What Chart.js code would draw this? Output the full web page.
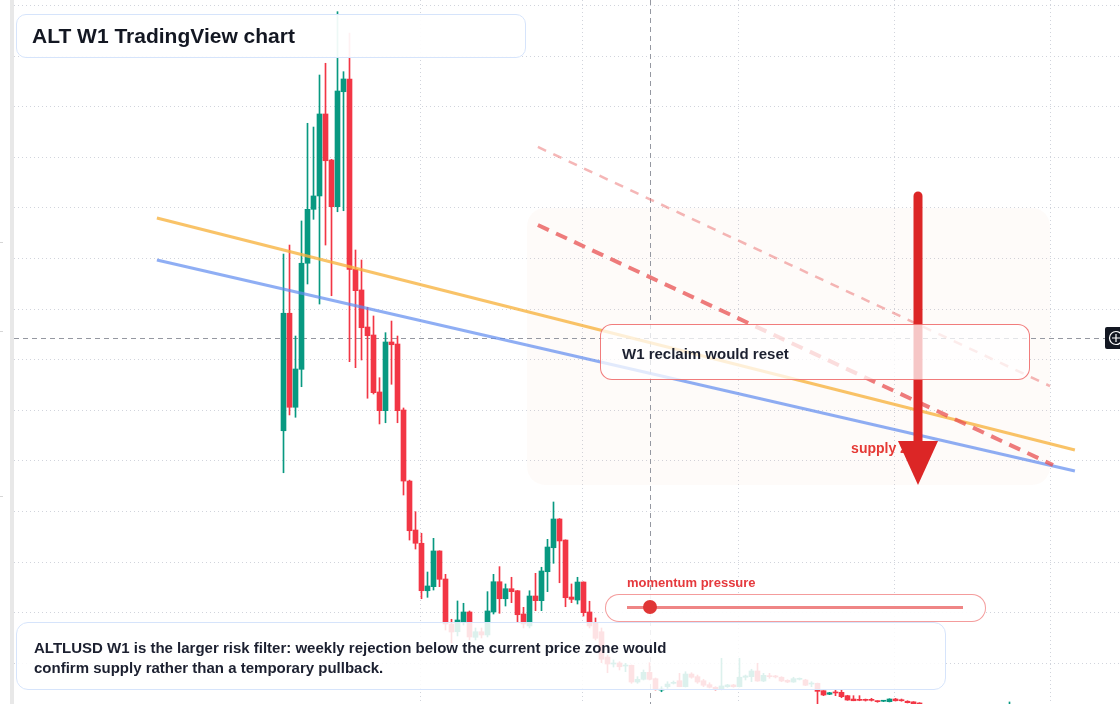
<!DOCTYPE html>
<html>
<head>
<meta charset="utf-8">
<script src="https://cdn.jsdelivr.net/npm/chart.js@4.4.1/dist/chart.umd.min.js"></script>
<style>
  html, body { margin: 0; padding: 0; background: #fff; }
  body { width: 1120px; height: 704px; position: relative; overflow: hidden;
         font-family: "Liberation Sans", Arial, sans-serif; }
  #wrap { position: absolute; left: 0; top: 0; width: 1120px; height: 704px; }
  .strip { position: absolute; left: 10px; top: 0; width: 4px; height: 704px; background: #e8e8e8; }
  .ltick { position: absolute; left: 0; width: 3px; height: 1px; background: #d6d6d6; }
  .box { position: absolute; box-sizing: border-box; }
  #title { left: 16px; top: 14px; width: 510px; height: 44px; border: 1.5px solid #d6e4fb;
           border-radius: 10px; background: rgba(255,255,255,0.93); color: #131722;
           font-weight: bold; font-size: 21px; line-height: 41px; padding-left: 15px; }
  #note { left: 16px; top: 622px; width: 930px; height: 68px; border: 1.5px solid #d6e4fb;
          border-radius: 12px; background: rgba(255,255,255,0.86); color: #1c2030;
          font-weight: bold; font-size: 15px; line-height: 20px; padding: 15px 0 0 17px; }
  #reclaim { left: 600px; top: 324px; width: 430px; height: 56px; border: 1px solid rgba(236,80,80,0.75);
             border-radius: 12px; background: rgba(255,255,255,0.74); color: #1c2030;
             font-weight: bold; font-size: 15px; line-height: 58px; padding-left: 21px; }
  #momLabel { left: 627px; top: 575px; color: #e5393d; font-weight: bold; font-size: 13px; }
  #momPill { left: 605px; top: 594px; width: 381px; height: 28px; border: 1.5px solid rgba(236,90,90,0.6);
             border-radius: 14px; background: rgba(255,255,255,0.9); }
  #momTrack { left: 21px; top: 11px; width: 336px; height: 3px; background: #ef8585; }
  #momKnob { left: 37px; top: 5px; width: 14px; height: 14px; border-radius: 50%; background: #e03636; }
</style>
</head>
<body>
<div id="wrap"><canvas id="chart" width="1120" height="704"></canvas></div>
<div class="strip"></div>
<div class="ltick" style="top:242px"></div>
<div class="ltick" style="top:331px"></div>
<div class="ltick" style="top:496px"></div>

<div class="box" id="title">ALT W1 TradingView chart</div>
<div class="box" id="reclaim">W1 reclaim would reset</div>
<div class="box" id="momLabel">momentum pressure</div>
<div class="box" id="momPill"><div class="box" id="momTrack"></div><div class="box" id="momKnob"></div></div>
<div class="box" id="note">ALTLUSD W1 is the larger risk filter: weekly rejection below the current price zone would<br>confirm supply rather than a temporary pullback.</div>

<script>
'use strict';

// ── Weekly candles (ALTUSD, price in USD), index = week number ──
// weeks 107-120 trade below the visible window, so they are left empty (null)
const opens = [
  0.2798, 0.3959, 0.3030, 0.3405, 0.4453, 0.4986, 0.5118, 0.5928, 0.5473, 0.5012,
  0.6148, 0.6274, 0.4393, 0.4189, 0.3823, 0.3744, 0.3181, 0.2996, 0.3675, 0.3655,
  0.3003, 0.2301, 0.1817, 0.1686, 0.1217, 0.1257, 0.1610, 0.1333, 0.0888, 0.0812,
  0.0911, 0.1007, 0.0757, 0.0812, 0.0780, 0.1007, 0.1306, 0.1138, 0.1237, 0.1217,
  0.0987, 0.0869, 0.1165, 0.1119, 0.1405, 0.1642, 0.1926, 0.1718, 0.1155, 0.1125,
  0.1303, 0.1007, 0.0898, 0.0812, 0.0562, 0.0493, 0.0503, 0.0473, 0.0480, 0.0315,
  0.0342, 0.0411, 0.0348, 0.0236, 0.0269, 0.0302, 0.0328, 0.0269, 0.0394, 0.0368,
  0.0328, 0.0289, 0.0263, 0.0243, 0.0269, 0.0286, 0.0269, 0.0362, 0.0368, 0.0424,
  0.0325, 0.0375, 0.0375, 0.0362, 0.0332, 0.0315, 0.0342, 0.0335, 0.0295, 0.0302,
  0.0229, 0.0194, 0.0213, 0.0213, 0.0180, 0.0147, 0.0140, 0.0140, 0.0140, 0.0127,
  0.0125, 0.0121, 0.0147, 0.0140, 0.0125, 0.0119, 0.0108, null, null, null,
  null, null, null, null, null, null, null, null, null, null,
  null, 0.0072
];
const highs = [
  0.4544, 0.4633, 0.3734, 0.4871, 0.5836, 0.5799, 0.6313, 0.6429, 0.5480, 0.6939,
  0.6346, 0.6728, 0.4584, 0.4485, 0.4018, 0.3932, 0.3322, 0.3767, 0.3882, 0.3734,
  0.3023, 0.2310, 0.1998, 0.1785, 0.1402, 0.1735, 0.1612, 0.1379, 0.0935, 0.1116,
  0.1093, 0.1017, 0.0849, 0.0849, 0.1208, 0.1379, 0.1455, 0.1284, 0.1350, 0.1220,
  0.1053, 0.1217, 0.1389, 0.1449, 0.1725, 0.2094, 0.1930, 0.1720, 0.1284, 0.1350,
  0.1305, 0.1113, 0.0948, 0.0849, 0.0582, 0.0533, 0.0516, 0.0500, 0.0483, 0.0368,
  0.0434, 0.0506, 0.0355, 0.0269, 0.0318, 0.0325, 0.0401, 0.0417, 0.0407, 0.0384,
  0.0342, 0.0308, 0.0269, 0.0549, 0.0292, 0.0292, 0.0549, 0.0384, 0.0441, 0.0500,
  0.0401, 0.0401, 0.0381, 0.0368, 0.0338, 0.0362, 0.0355, 0.0342, 0.0318, 0.0305,
  0.0230, 0.0213, 0.0236, 0.0236, 0.0184, 0.0180, 0.0180, 0.0147, 0.0154, 0.0130,
  0.0134, 0.0150, 0.0154, 0.0147, 0.0130, 0.0121, 0.0111, null, null, null,
  null, null, null, null, null, null, null, null, null, null,
  null, 0.0118
];
const lows = [
  0.2383, 0.2954, 0.2931, 0.3233, 0.4248, 0.4887, 0.4050, 0.4633, 0.4132, 0.4962,
  0.4972, 0.3480, 0.3421, 0.3497, 0.3119, 0.3161, 0.2865, 0.2877, 0.3257, 0.2877,
  0.2163, 0.1718, 0.1629, 0.1138, 0.1152, 0.1224, 0.1257, 0.0829, 0.0701, 0.0770,
  0.0878, 0.0730, 0.0730, 0.0750, 0.0760, 0.0987, 0.0994, 0.1066, 0.1099, 0.0911,
  0.0849, 0.0849, 0.1020, 0.1020, 0.1208, 0.1488, 0.1296, 0.1059, 0.1099, 0.1086,
  0.0967, 0.0849, 0.0730, 0.0506, 0.0407, 0.0463, 0.0434, 0.0417, 0.0302, 0.0302,
  0.0335, 0.0335, 0.0236, 0.0219, 0.0253, 0.0295, 0.0268, 0.0266, 0.0352, 0.0302,
  0.0269, 0.0256, 0.0236, 0.0239, 0.0263, 0.0263, 0.0266, 0.0335, 0.0318, 0.0322,
  0.0318, 0.0352, 0.0355, 0.0318, 0.0308, 0.0312, 0.0335, 0.0279, 0.0269, 0.0078,
  0.0180, 0.0190, 0.0180, 0.0160, 0.0134, 0.0130, 0.0130, 0.0127, 0.0127, 0.0115,
  0.0121, 0.0118, 0.0127, 0.0125, 0.0108, 0.0088, 0.0058, null, null, null,
  null, null, null, null, null, null, null, null, null, null,
  null, 0.0068
];
const closes = [
  0.3959, 0.3030, 0.3408, 0.4453, 0.4986, 0.5118, 0.5928, 0.5466, 0.5012, 0.6155,
  0.6274, 0.4393, 0.4182, 0.3816, 0.3737, 0.3174, 0.2996, 0.3675, 0.3648, 0.2996,
  0.2301, 0.1810, 0.1686, 0.1217, 0.1264, 0.1610, 0.1330, 0.0888, 0.0809, 0.0928,
  0.1007, 0.0760, 0.0812, 0.0780, 0.1017, 0.1306, 0.1138, 0.1237, 0.1208, 0.0980,
  0.0888, 0.1165, 0.1119, 0.1412, 0.1649, 0.1926, 0.1709, 0.1148, 0.1132, 0.1303,
  0.1000, 0.0869, 0.0747, 0.0540, 0.0493, 0.0500, 0.0466, 0.0480, 0.0315, 0.0342,
  0.0411, 0.0342, 0.0243, 0.0243, 0.0295, 0.0308, 0.0269, 0.0394, 0.0362, 0.0315,
  0.0283, 0.0263, 0.0243, 0.0276, 0.0286, 0.0269, 0.0362, 0.0375, 0.0424, 0.0325,
  0.0381, 0.0368, 0.0365, 0.0325, 0.0315, 0.0348, 0.0348, 0.0283, 0.0302, 0.0223,
  0.0187, 0.0209, 0.0207, 0.0170, 0.0137, 0.0130, 0.0134, 0.0134, 0.0134, 0.0121,
  0.0130, 0.0147, 0.0130, 0.0130, 0.0111, 0.0098, 0.0068, null, null, null,
  null, null, null, null, null, null, null, null, null, null,
  null, 0.0089
];

// price grid (0.05 steps) and the time grid (half-year marks, in week index)
const priceTicks = [0.05, 0.10, 0.15, 0.20, 0.25, 0.30, 0.35, 0.40, 0.45, 0.50, 0.55, 0.60, 0.65, 0.70];
const timeTicks  = [22.9, 49.9, 75.9, 101.9, 127.9];

// trend lines drawn on the chart (week index, price)
const orangeLine   = [{ x: -21.1, y: 0.4900 }, { x: 131.9, y: 0.2608 }];
const blueLine     = [{ x: -21.1, y: 0.4485 }, { x: 131.9, y: 0.2400 }];
const supplyLine   = [{ x: 42.4,  y: 0.4831 }, { x: 128.25, y: 0.2460 }];
const upperLine    = [{ x: 42.4,  y: 0.5602 }, { x: 127.75, y: 0.3240 }];

// annotation anchors
const zoneBox    = { x0: 40.6, x1: 127.75, yTop: 0.4999, yBot: 0.2262 };
const arrowMark  = { x: 105.75, yTop: 0.5118, yHead: 0.2697, yTip: 0.2262 };
const supplyText = { x: 94.6, y: 0.2578, text: 'supply zone' };
const crosshair  = { x: 61.1, y: 0.3711 };

const UP = '#089981', DOWN = '#f23645';
const idx = opens.map((_, i) => i).filter(i => opens[i] !== null);
const candleColor = idx.map(i => closes[i] >= opens[i] ? UP : DOWN);

function roundRect(ctx, x, y, w, h, r) {
  ctx.beginPath();
  ctx.moveTo(x + r, y);
  ctx.arcTo(x + w, y, x + w, y + h, r);
  ctx.arcTo(x + w, y + h, x, y + h, r);
  ctx.arcTo(x, y + h, x, y, r);
  ctx.arcTo(x, y, x + w, y, r);
  ctx.closePath();
}

// shaded zone + crosshair, under the candles
const underlay = {
  id: 'underlay',
  beforeDatasetsDraw(chart) {
    const { ctx, scales: { x, y }, chartArea } = chart;
    ctx.save();
    const zx0 = x.getPixelForValue(zoneBox.x0), zx1 = x.getPixelForValue(zoneBox.x1);
    const zy0 = y.getPixelForValue(zoneBox.yTop), zy1 = y.getPixelForValue(zoneBox.yBot);
    roundRect(ctx, zx0, zy0, zx1 - zx0, zy1 - zy0, 18);
    ctx.fillStyle = 'rgba(240,150,110,0.04)';
    ctx.fill();

    const cx = Math.round(x.getPixelForValue(crosshair.x)) + 0.5;
    const cy = Math.round(y.getPixelForValue(crosshair.y)) + 0.5;
    ctx.strokeStyle = '#9598a1';
    ctx.lineWidth = 1;
    ctx.setLineDash([5, 4]);
    ctx.beginPath();
    ctx.moveTo(cx, chartArea.top); ctx.lineTo(cx, chartArea.bottom);
    ctx.moveTo(chartArea.left, cy); ctx.lineTo(1105, cy);
    ctx.stroke();
    ctx.restore();
  }
};

// arrow, label and the crosshair "+" button, above the candles
const overlay = {
  id: 'overlay',
  afterDatasetsDraw(chart) {
    const { ctx, scales: { x, y } } = chart;
    ctx.save();
    ctx.font = 'bold 14px "Liberation Sans", Arial, sans-serif';
    ctx.fillStyle = '#e53935';
    ctx.textBaseline = 'alphabetic';
    ctx.fillText(supplyText.text, x.getPixelForValue(supplyText.x), y.getPixelForValue(supplyText.y));

    const ax = x.getPixelForValue(arrowMark.x);
    const aTop = y.getPixelForValue(arrowMark.yTop);
    const aHead = y.getPixelForValue(arrowMark.yHead);
    const aTip = y.getPixelForValue(arrowMark.yTip);
    ctx.strokeStyle = '#dc2626';
    ctx.fillStyle = '#dc2626';
    ctx.lineWidth = 9;
    ctx.lineCap = 'round';
    ctx.beginPath();
    ctx.moveTo(ax, aTop); ctx.lineTo(ax, aHead + 4);
    ctx.stroke();
    ctx.beginPath();
    ctx.moveTo(ax - 20, aHead); ctx.lineTo(ax + 20, aHead); ctx.lineTo(ax, aTip);
    ctx.closePath();
    ctx.fill();

    const cy = Math.round(y.getPixelForValue(crosshair.y));
    ctx.fillStyle = '#131722';
    roundRect(ctx, 1105, cy - 11, 24, 22, 2);
    ctx.fill();
    ctx.strokeStyle = '#ffffff';
    ctx.lineWidth = 1.2;
    ctx.lineCap = 'butt';
    ctx.beginPath();
    ctx.arc(1116, cy, 6.5, 0, Math.PI * 2);
    ctx.moveTo(1112, cy); ctx.lineTo(1120, cy);
    ctx.moveTo(1116, cy - 4); ctx.lineTo(1116, cy + 4);
    ctx.stroke();
    ctx.restore();
  }
};

function lineDs(data, color, width, dash) {
  return {
    type: 'line', data, borderColor: color, borderWidth: width, borderDash: dash || [],
    pointRadius: 0, fill: false, tension: 0, order: -1
  };
}

const ctx = document.getElementById('chart').getContext('2d');
new Chart(ctx, {
  data: {
    datasets: [
      {
        type: 'bar',
        data: idx.map(i => ({ x: i, y: [opens[i], closes[i]] })),
        backgroundColor: candleColor,
        barThickness: 5, minBarLength: 1, grouped: false, order: 1
      },
      {
        type: 'bar',
        data: idx.map(i => ({ x: i, y: [lows[i], highs[i]] })),
        backgroundColor: candleColor,
        barThickness: 1, grouped: false, order: 2
      },
      lineDs(upperLine, 'rgba(236,110,110,0.5)', 2.5, [9, 8]),
      lineDs(supplyLine, 'rgba(232,80,80,0.75)', 4, [12, 8]),
      lineDs(orangeLine, 'rgba(247,178,62,0.78)', 3),
      lineDs(blueLine, 'rgba(96,140,240,0.7)', 3)
    ]
  },
  options: {
    responsive: false,
    animation: false,
    devicePixelRatio: 1,
    events: [],
    layout: { padding: { left: 14, right: 0, top: 0, bottom: 0 } },
    plugins: { legend: { display: false }, tooltip: { enabled: false } },
    scales: {
      x: {
        type: 'linear', min: -44.917, max: 139.417, offset: false,
        afterBuildTicks: s => { s.ticks = timeTicks.map(v => ({ value: v })); },
        ticks: { display: false },
        grid: { color: '#d1d4dc', lineWidth: 1, drawTicks: false, offset: false },
        border: { display: false, dash: [1, 3] }
      },
      y: {
        type: 'linear', min: 0.00978, max: 0.70543,
        afterBuildTicks: s => { s.ticks = priceTicks.map(v => ({ value: v })); },
        ticks: { display: false },
        grid: { color: '#d1d4dc', lineWidth: 1, drawTicks: false },
        border: { display: false, dash: [1, 3] }
      }
    }
  },
  plugins: [underlay, overlay]
});
</script>
</body>
</html>
